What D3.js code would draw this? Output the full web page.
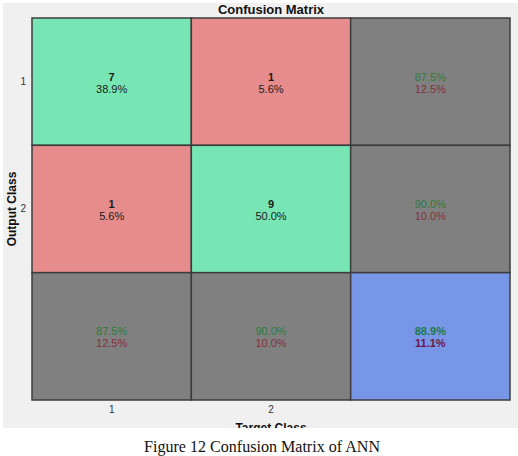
<!DOCTYPE html>
<html>
<head>
<meta charset="utf-8">
<script src="https://cdn.jsdelivr.net/npm/d3@7"></script>
<style>
  body { margin: 0; background: #fff; }
  svg { display: block; }
</style>
</head>
<body>
<div id="chart"></div>
<script>
// confusion matrix values
const classes = ["1", "2"];
const counts = [[7, 1], [1, 9]];            // [output row][target col]
const cellPct = [[38.9, 5.6], [5.6, 50.0]];
const rowCorrect = [87.5, 90.0];            // right-hand column
const colCorrect = [87.5, 90.0];            // bottom row
const overallCorrect = 88.9;

confusionChart();

function confusionChart() {

    let W = 518, H = 456;
    let margin = { top: 18, right: 8, bottom: 56, left: 32 },
        width = 510 - margin.left,
        height = 400 - margin.top;

    let svg = d3.select("#chart").append("svg")
        .attr("width", W)
        .attr("height", H);

    // matlab figure background
    svg.append("rect")
        .attr("x", 3).attr("y", 3)
        .attr("width", W - 3).attr("height", 425)
        .attr("fill", "#f0f0f0");

    let g = svg.append("g")
        .attr("transform", "translate(" + margin.left + "," + margin.top + ")");

    let idx = [0, 1, 2];
    let x = d3.scaleBand().domain(idx).range([0, width]);
    let y = d3.scaleBand().domain(idx).range([0, height]);

    // build cells
    let cells = [];
    idx.forEach(r => idx.forEach(c => {
        let cell = { r: r, c: c };
        if (r < 2 && c < 2) {
            cell.fill = r === c ? "#78e6b4" : "#e68c8c";
            cell.top = String(counts[r][c]);
            cell.bot = cellPct[r][c].toFixed(1) + "%";
            cell.topCol = "#1a1a1a"; cell.botCol = "#1a1a1a";
            cell.topBold = true; cell.botBold = false;
        } else if (r === 2 && c === 2) {
            cell.fill = "#7896e6";
            cell.top = overallCorrect.toFixed(1) + "%";
            cell.bot = (100 - overallCorrect).toFixed(1) + "%";
            cell.topCol = "#1e7a4e"; cell.botCol = "#6a1848";
            cell.topBold = true; cell.botBold = true;
        } else {
            let v = c === 2 ? rowCorrect[r] : colCorrect[c];
            cell.fill = "#808080";
            cell.top = v.toFixed(1) + "%";
            cell.bot = (100 - v).toFixed(1) + "%";
            cell.topCol = "#2c7c3c"; cell.botCol = "#84303c";
            cell.topBold = false; cell.botBold = false;
        }
        cells.push(cell);
    }));

    g.selectAll(".cell")
        .data(cells)
        .enter()
        .append("rect")
        .attr("class", "cell")
        .attr("x", d => x(d.c))
        .attr("y", d => y(d.r))
        .attr("width", x.bandwidth())
        .attr("height", y.bandwidth())
        .attr("fill", d => d.fill)
        .attr("stroke", "#3c3c3c")
        .attr("stroke-width", 1.5);

    let txt = g.selectAll(".lbl")
        .data(cells)
        .enter()
        .append("g")
        .attr("transform", d => "translate(" + (x(d.c) + x.bandwidth() / 2) + "," + (y(d.r) + y.bandwidth() / 2) + ")")
        .style("font-family", "Liberation Sans, Arial, sans-serif")
        .style("font-size", "11px")
        .attr("text-anchor", "middle");

    txt.append("text")
        .attr("y", -1)
        .attr("fill", d => d.topCol)
        .style("font-weight", d => d.topBold ? "bold" : "normal")
        .text(d => d.top);

    txt.append("text")
        .attr("y", 11)
        .attr("fill", d => d.botCol)
        .style("font-weight", d => d.botBold ? "bold" : "normal")
        .text(d => d.bot);

    // axes
    let tickText = i => i < 2 ? classes[i] : "";

    let xAxis = g.append("g")
        .attr("transform", "translate(0," + height + ")")
        .call(d3.axisBottom(x).tickSize(0).tickPadding(6).tickFormat(tickText));
    let yAxis = g.append("g")
        .call(d3.axisLeft(y).tickSize(0).tickPadding(6).tickFormat(tickText));

    [xAxis, yAxis].forEach(a => {
        a.select(".domain").remove();
        a.selectAll("text")
            .attr("fill", "#333")
            .style("font-family", "Liberation Sans, Arial, sans-serif")
            .style("font-size", "10px");
    });

    // axis titles
    svg.append("text")
        .attr("x", margin.left + width / 2)
        .attr("y", 14)
        .attr("text-anchor", "middle")
        .style("font-family", "Liberation Sans, Arial, sans-serif")
        .style("font-size", "13px")
        .style("font-weight", "bold")
        .attr("fill", "#111")
        .text("Confusion Matrix");

    svg.append("text")
        .attr("transform", "rotate(-90)")
        .attr("x", -(margin.top + height / 2))
        .attr("y", 16)
        .attr("text-anchor", "middle")
        .style("font-family", "Liberation Sans, Arial, sans-serif")
        .style("font-size", "12px")
        .style("font-weight", "bold")
        .attr("fill", "#111")
        .text("Output Class");

    // target class label, clipped at the bottom of the figure
    svg.append("clipPath").attr("id", "clipfig")
        .append("rect").attr("x", 0).attr("y", 0).attr("width", W).attr("height", 428);

    svg.append("text")
        .attr("clip-path", "url(#clipfig)")
        .attr("x", margin.left + width / 2)
        .attr("y", 432)
        .attr("text-anchor", "middle")
        .style("font-family", "Liberation Sans, Arial, sans-serif")
        .style("font-size", "12px")
        .style("font-weight", "bold")
        .attr("fill", "#111")
        .text("Target Class");

    // caption
    svg.append("text")
        .attr("x", 262)
        .attr("y", 452)
        .attr("text-anchor", "middle")
        .attr("textLength", 236)
        .attr("lengthAdjust", "spacingAndGlyphs")
        .style("font-family", "Liberation Serif, Times New Roman, serif")
        .style("font-size", "17px")
        .attr("fill", "#111")
        .text("Figure 12 Confusion Matrix of ANN");
}
</script>
</body>
</html>
